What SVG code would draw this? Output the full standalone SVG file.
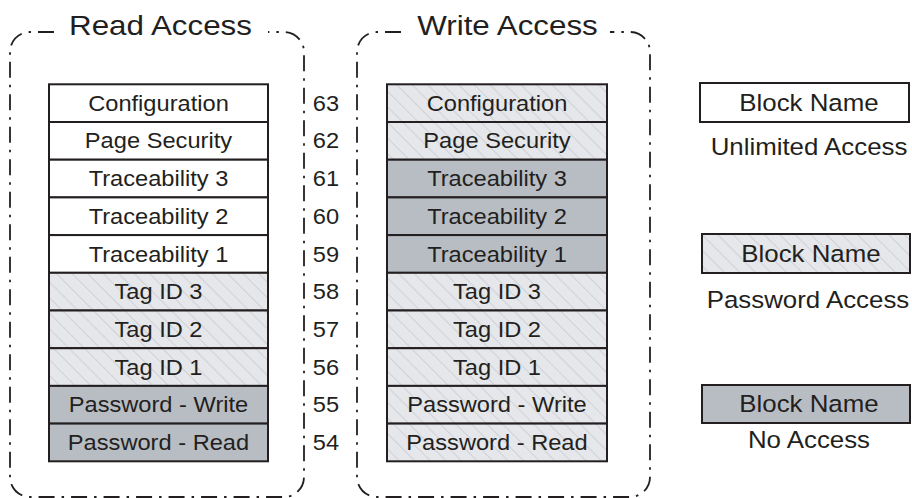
<svg xmlns="http://www.w3.org/2000/svg" width="912" height="498" viewBox="0 0 912 498">
<style>
text{font-family:"Liberation Sans",Arial,sans-serif;fill:#231f20;transform-box:fill-box;transform-origin:center;transform:scaleX(1.1)}
.r{font-size:21.5px;text-anchor:middle}
.n{font-size:21.5px;text-anchor:start}
.title{font-size:28.5px;text-anchor:middle}
.lg{font-size:23.5px;text-anchor:middle}
.box{stroke:#231f20;stroke-width:2}
.w{fill:#ffffff}
.h{fill:url(#hatch)}
.d{fill:#b8bdc4}
.dash{fill:none;stroke:#231f20;stroke-width:1.8;stroke-dasharray:16 7 2.5 7}
</style>
<defs>
<pattern id="hatch" patternUnits="userSpaceOnUse" width="11" height="11" patternTransform="rotate(-45)">
<rect width="11" height="11" fill="#e5e7eb"/>
<line x1="0" y1="0" x2="0" y2="11" stroke="#9a9da2" stroke-width="0.6"/>
</pattern>
</defs>
<rect width="912" height="498" fill="#ffffff"/>

<g id="read-access">
<path class="dash" d="M 54 32 H 30 A 20 20 0 0 0 10 52 V 477 A 20 20 0 0 0 30 497 H 284 A 20 20 0 0 0 304 477 V 52 A 20 20 0 0 0 284 32 H 268"/>
<text class="title" x="160.5" y="35">Read Access</text>
</g>
<g id="write-access">
<path class="dash" d="M 401 32 H 377 A 20 20 0 0 0 357 52 V 477 A 20 20 0 0 0 377 497 H 630 A 20 20 0 0 0 650 477 V 52 A 20 20 0 0 0 630 32 H 610"/>
<text class="title" x="507.5" y="35">Write Access</text>
</g>

<g id="r63"><rect class="box w" x="49" y="84.3" width="219" height="37.7"/><text class="r" x="158.5" y="110.8">Configuration</text></g>
<g id="r62"><rect class="box w" x="49" y="122" width="219" height="37.7"/><text class="r" x="158.5" y="148.5">Page Security</text></g>
<g id="r61"><rect class="box w" x="49" y="159.7" width="219" height="37.7"/><text class="r" x="158.5" y="186.2">Traceability 3</text></g>
<g id="r60"><rect class="box w" x="49" y="197.4" width="219" height="37.7"/><text class="r" x="158.5" y="223.9">Traceability 2</text></g>
<g id="r59"><rect class="box w" x="49" y="235.1" width="219" height="37.7"/><text class="r" x="158.5" y="261.6">Traceability 1</text></g>
<g id="r58"><rect class="box h" x="49" y="272.8" width="219" height="37.7"/><text class="r" x="158.5" y="299.3">Tag ID 3</text></g>
<g id="r57"><rect class="box h" x="49" y="310.5" width="219" height="37.7"/><text class="r" x="158.5" y="337">Tag ID 2</text></g>
<g id="r56"><rect class="box h" x="49" y="348.2" width="219" height="37.7"/><text class="r" x="158.5" y="374.7">Tag ID 1</text></g>
<g id="r55"><rect class="box d" x="49" y="385.9" width="219" height="37.7"/><text class="r" x="158.5" y="412.4">Password - Write</text></g>
<g id="r54"><rect class="box d" x="49" y="423.6" width="219" height="37.7"/><text class="r" x="158.5" y="450.1">Password - Read</text></g>

<g id="w63"><rect class="box h" x="387" y="84.3" width="220" height="37.7"/><text class="r" x="497" y="110.8">Configuration</text></g>
<g id="w62"><rect class="box h" x="387" y="122" width="220" height="37.7"/><text class="r" x="497" y="148.5">Page Security</text></g>
<g id="w61"><rect class="box d" x="387" y="159.7" width="220" height="37.7"/><text class="r" x="497" y="186.2">Traceability 3</text></g>
<g id="w60"><rect class="box d" x="387" y="197.4" width="220" height="37.7"/><text class="r" x="497" y="223.9">Traceability 2</text></g>
<g id="w59"><rect class="box d" x="387" y="235.1" width="220" height="37.7"/><text class="r" x="497" y="261.6">Traceability 1</text></g>
<g id="w58"><rect class="box h" x="387" y="272.8" width="220" height="37.7"/><text class="r" x="497" y="299.3">Tag ID 3</text></g>
<g id="w57"><rect class="box h" x="387" y="310.5" width="220" height="37.7"/><text class="r" x="497" y="337">Tag ID 2</text></g>
<g id="w56"><rect class="box h" x="387" y="348.2" width="220" height="37.7"/><text class="r" x="497" y="374.7">Tag ID 1</text></g>
<g id="w55"><rect class="box h" x="387" y="385.9" width="220" height="37.7"/><text class="r" x="497" y="412.4">Password - Write</text></g>
<g id="w54"><rect class="box h" x="387" y="423.6" width="220" height="37.7"/><text class="r" x="497" y="450.1">Password - Read</text></g>

<g id="addresses">
<text class="n" x="314" y="110.8">63</text>
<text class="n" x="314" y="148.5">62</text>
<text class="n" x="314" y="186.2">61</text>
<text class="n" x="314" y="223.9">60</text>
<text class="n" x="314" y="261.6">59</text>
<text class="n" x="314" y="299.3">58</text>
<text class="n" x="314" y="337">57</text>
<text class="n" x="314" y="374.7">56</text>
<text class="n" x="314" y="412.4">55</text>
<text class="n" x="314" y="450.1">54</text>
</g>

<g id="legend-unlimited"><rect class="box w" x="700" y="83" width="209" height="39"/><text class="lg" x="809" y="111">Block Name</text><text class="lg" x="809" y="155">Unlimited Access</text></g>
<g id="legend-password"><rect class="box h" x="702" y="234" width="208" height="39"/><text class="lg" x="811" y="262">Block Name</text><text class="lg" x="808" y="308">Password Access</text></g>
<g id="legend-none"><rect class="box d" x="702" y="385" width="208" height="38"/><text class="lg" x="809" y="412">Block Name</text><text class="lg" x="809" y="448">No Access</text></g>
</svg>
